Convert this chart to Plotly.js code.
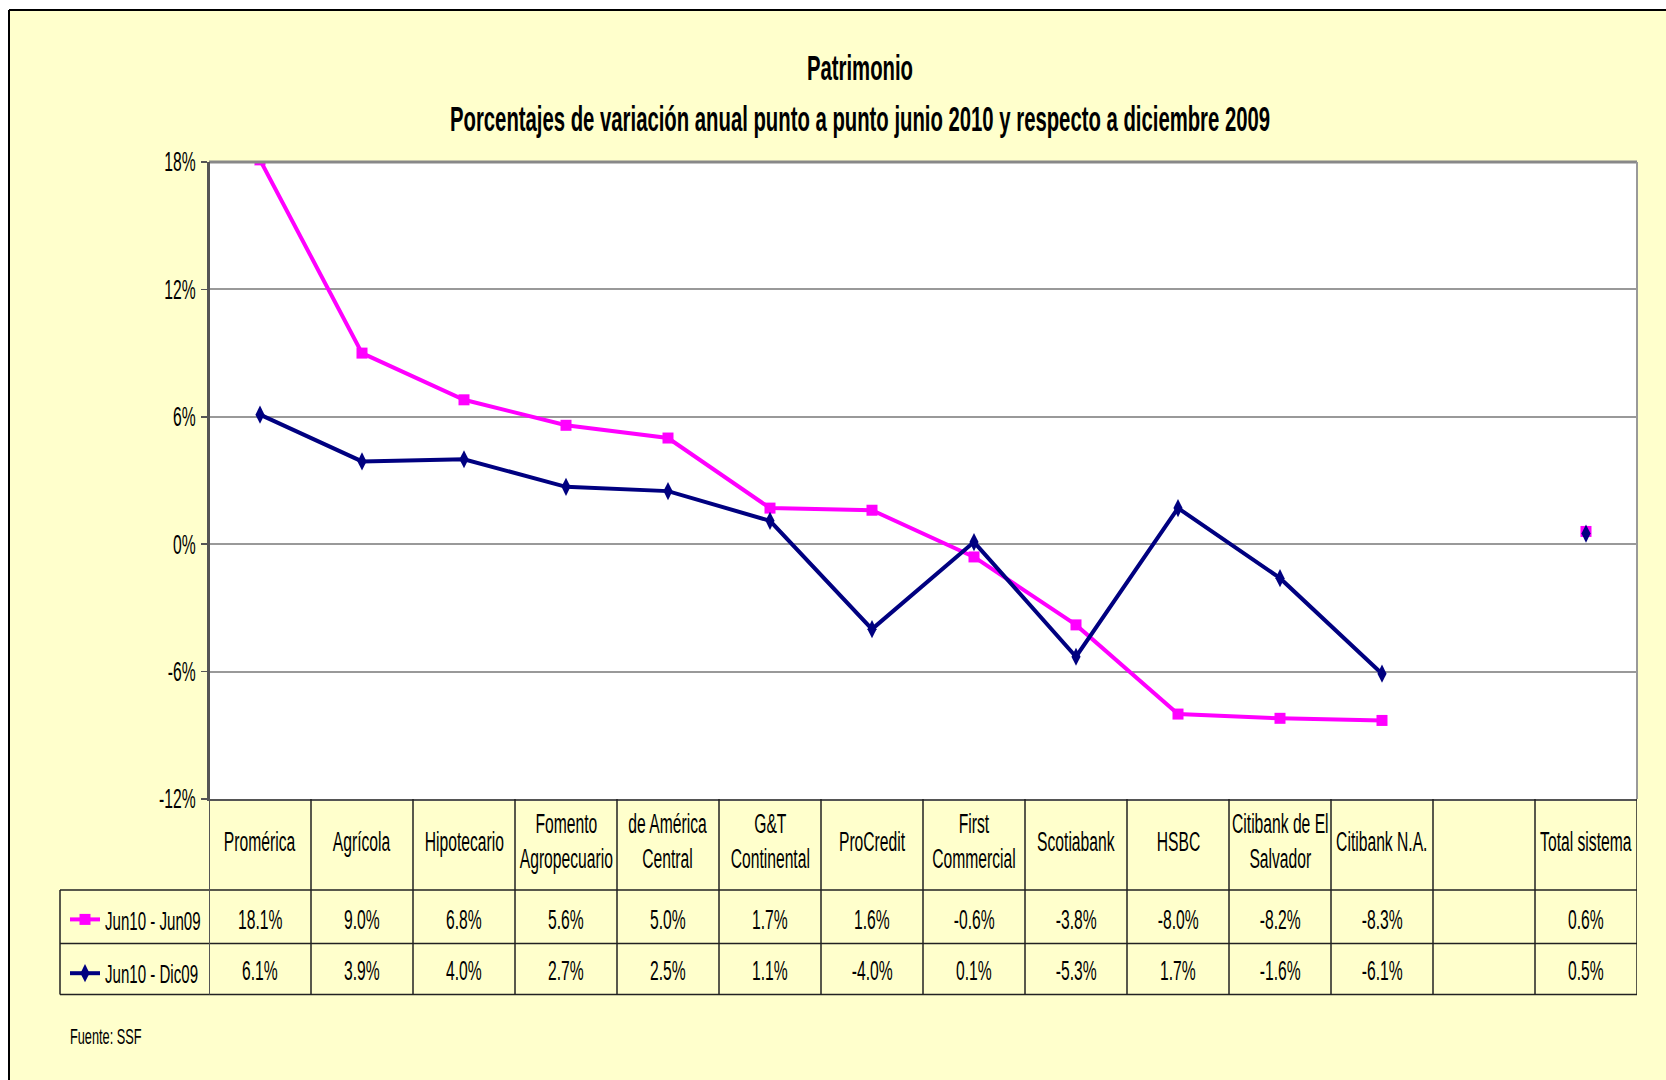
<!DOCTYPE html>
<html>
<head>
<meta charset="utf-8">
<script src="https://cdn.plot.ly/plotly-3.0.1.min.js"></script>
<style>
  html, body { margin: 0; padding: 0; background: #ffffff; }
  #chart { width: 1666px; height: 1080px; }
</style>
</head>
<body>
<div id="chart"></div>
<script>
// ---------------- DATA ----------------
const categories = ["Promérica", "Agrícola", "Hipotecario", "Fomento<br>Agropecuario",
  "de América<br>Central", "G&T<br>Continental", "ProCredit", "First<br>Commercial",
  "Scotiabank", "HSBC", "Citibank de El<br>Salvador", "Citibank N.A.", "", "Total sistema"];
const seriesNames = ["Jun10 - Jun09", "Jun10 - Dic09"];
const jun10Jun09 = [18.1, 9.0, 6.8, 5.6, 5.0, 1.7, 1.6, -0.6, -3.8, -8.0, -8.2, -8.3, null, 0.6];
const jun10Dic09 = [6.1, 3.9, 4.0, 2.7, 2.5, 1.1, -4.0, 0.1, -5.3, 1.7, -1.6, -6.1, null, 0.5];
const yTickVals = [-12, -6, 0, 6, 12, 18];
const yTickText = ["-12%", "-6%", "0%", "6%", "12%", "18%"];
const titleText = "Patrimonio";
const subtitleText = "Porcentajes de variación anual punto a punto junio 2010 y respecto a diciembre 2009";
const sourceText = "Fuente: SSF";

// ---------------- LAYOUT GEOMETRY (pixels) ----------------
const W = 1666, H = 1080;
const L = 209, R = 1637, T = 162, B = 799;
const rowHeaderBottom = 890, row1Bottom = 943.5, row2Bottom = 994.5, legendLeft = 60;
const py = p => (B - p) / (B - T);          // pixel y -> paper y
const px = p => (p - L) / (R - L);          // pixel x -> paper x
const SQUEEZE = 0.58;                        // horizontal condensing of all text (narrow font look)

const FONT = '"Liberation Sans", Arial, sans-serif';
const YELLOW = '#FFFFCC';
const PINK = '#FF00FF';
const NAVY = '#000080';
const idx = categories.map((_, i) => i);

const traces = [
  {
    x: idx, y: jun10Jun09, name: seriesNames[0], type: 'scatter', mode: 'lines+markers',
    line: { color: PINK, width: 4 }, marker: { symbol: 'square', size: 11, color: PINK },
    connectgaps: false, legendgroup: 'a', cliponaxis: true, hoverinfo: 'y'
  },
  {
    x: idx, y: jun10Dic09, name: seriesNames[1], type: 'scatter', mode: 'lines+markers',
    line: { color: NAVY, width: 4 }, marker: { symbol: 'diamond-tall', size: 13, color: NAVY },
    connectgaps: false, legendgroup: 'b', cliponaxis: true, hoverinfo: 'y'
  }
];

const shapes = [];
const annotations = [];
const lineColor = '#222222';

// white strips outside outer border + border lines
shapes.push({ type: 'rect', xref: 'paper', yref: 'paper', x0: px(-5), x1: px(W + 5), y0: py(-5), y1: py(10), fillcolor: '#ffffff', line: { width: 0 } });
shapes.push({ type: 'rect', xref: 'paper', yref: 'paper', x0: px(-5), x1: px(9), y0: py(-5), y1: py(H + 5), fillcolor: '#ffffff', line: { width: 0 } });
shapes.push({ type: 'line', xref: 'paper', yref: 'paper', x0: px(9), x1: px(W + 5), y0: py(10), y1: py(10), line: { color: '#000', width: 2 } });
shapes.push({ type: 'line', xref: 'paper', yref: 'paper', x0: px(9), x1: px(9), y0: py(10), y1: py(H + 5), line: { color: '#000', width: 2 } });

// plot-area frame (top and right gray)
shapes.push({ type: 'line', xref: 'paper', yref: 'paper', x0: 0, x1: 1, y0: 1, y1: 1, line: { color: '#888', width: 3 } });
shapes.push({ type: 'line', xref: 'paper', yref: 'paper', x0: 1, x1: 1, y0: 0, y1: 1, line: { color: '#999', width: 2 } });

// table horizontal lines
[rowHeaderBottom, row1Bottom, row2Bottom].forEach(p => {
  shapes.push({ type: 'line', xref: 'paper', yref: 'paper', x0: px(legendLeft), x1: 1, y0: py(p), y1: py(p), line: { color: lineColor, width: 1.5 } });
});
// legend column left border
shapes.push({ type: 'line', xref: 'paper', yref: 'paper', x0: px(legendLeft), x1: px(legendLeft), y0: py(rowHeaderBottom), y1: py(row2Bottom), line: { color: lineColor, width: 1.5 } });
// category column borders
for (let i = 0; i <= categories.length; i++) {
  shapes.push({ type: 'line', xref: 'x', yref: 'paper', x0: i - 0.5, x1: i - 0.5, y0: py(i === 0 ? T : B), y1: py(row2Bottom), line: { color: i === 0 ? '#555' : lineColor, width: i === 0 ? 2 : 1.5 } });
}

// header labels and values
const fmt = v => (v === null ? '' : v.toFixed(1) + '%');
categories.forEach((c, i) => {
  annotations.push({ x: i, xref: 'x', y: py((B + rowHeaderBottom) / 2 - 3), yref: 'paper', text: c, showarrow: false,
    font: { family: FONT, size: 27, color: '#000' }, align: 'center', xanchor: 'center', yanchor: 'middle' });
  annotations.push({ x: i, xref: 'x', y: py((rowHeaderBottom + row1Bottom) / 2 + 3), yref: 'paper', text: fmt(jun10Jun09[i]), showarrow: false,
    font: { family: FONT, size: 27, color: '#000' }, xanchor: 'center', yanchor: 'middle' });
  annotations.push({ x: i, xref: 'x', y: py((row1Bottom + row2Bottom) / 2 + 2), yref: 'paper', text: fmt(jun10Dic09[i]), showarrow: false,
    font: { family: FONT, size: 27, color: '#000' }, xanchor: 'center', yanchor: 'middle' });
});

// subtitle
annotations.push({ xref: 'paper', yref: 'paper', x: px(860), y: py(119), text: subtitleText,
  showarrow: false, font: { family: FONT, size: 35, color: '#000', weight: 'bold' }, xanchor: 'center', yanchor: 'middle' });
// source
annotations.push({ xref: 'paper', yref: 'paper', x: px(106), y: py(1036), text: sourceText, showarrow: false,
  font: { family: FONT, size: 22, color: '#000' }, xanchor: 'center', yanchor: 'middle' });

const layout = {
  width: W, height: H,
  paper_bgcolor: YELLOW, plot_bgcolor: '#ffffff',
  margin: { l: L, r: W - R, t: T, b: H - B, pad: 0 },
  title: { text: titleText, x: 860 / W, xanchor: 'center', y: 1 - 68 / H, yanchor: 'middle', yref: 'container', xref: 'container',
    font: { family: FONT, size: 35, color: '#000', weight: 'bold' } },
  xaxis: { range: [-0.5, categories.length - 0.5], showgrid: false, zeroline: false, showticklabels: false, ticks: '',
    showline: true, linecolor: '#555', linewidth: 2, fixedrange: true },
  yaxis: { range: [-12, 18], tickvals: yTickVals, ticktext: yTickText, showgrid: true, gridcolor: '#999', gridwidth: 2,
    zeroline: false, showline: true, linecolor: '#555', linewidth: 2, ticks: 'outside', ticklen: 6, tickcolor: '#555', tickwidth: 1.5,
    tickfont: { family: FONT, size: 27, color: '#000' }, fixedrange: true },
  showlegend: true,
  legend: { x: px(legendLeft + 5), y: py(rowHeaderBottom + 6), xanchor: 'left', yanchor: 'top', bgcolor: 'rgba(0,0,0,0)',
    traceorder: 'grouped', tracegroupgap: 17, font: { family: FONT, size: 26, color: '#000' }, itemwidth: 30 },
  shapes: shapes, annotations: annotations
};

function squeezeText(gd) {
  gd.querySelectorAll('svg text').forEach(t => {
    if (t.getAttribute('data-sq')) return;
    const x = parseFloat(t.getAttribute('x')) || 0;
    const tr = t.getAttribute('transform') || '';
    t.setAttribute('transform', (tr + ' translate(' + x + ',0) scale(' + SQUEEZE + ',1) translate(' + (-x) + ',0)').trim());
    t.setAttribute('data-sq', '1');
  });
}

Plotly.newPlot('chart', traces, layout, { displayModeBar: false, staticPlot: true }).then(gd => squeezeText(gd));
</script>
</body>
</html>
